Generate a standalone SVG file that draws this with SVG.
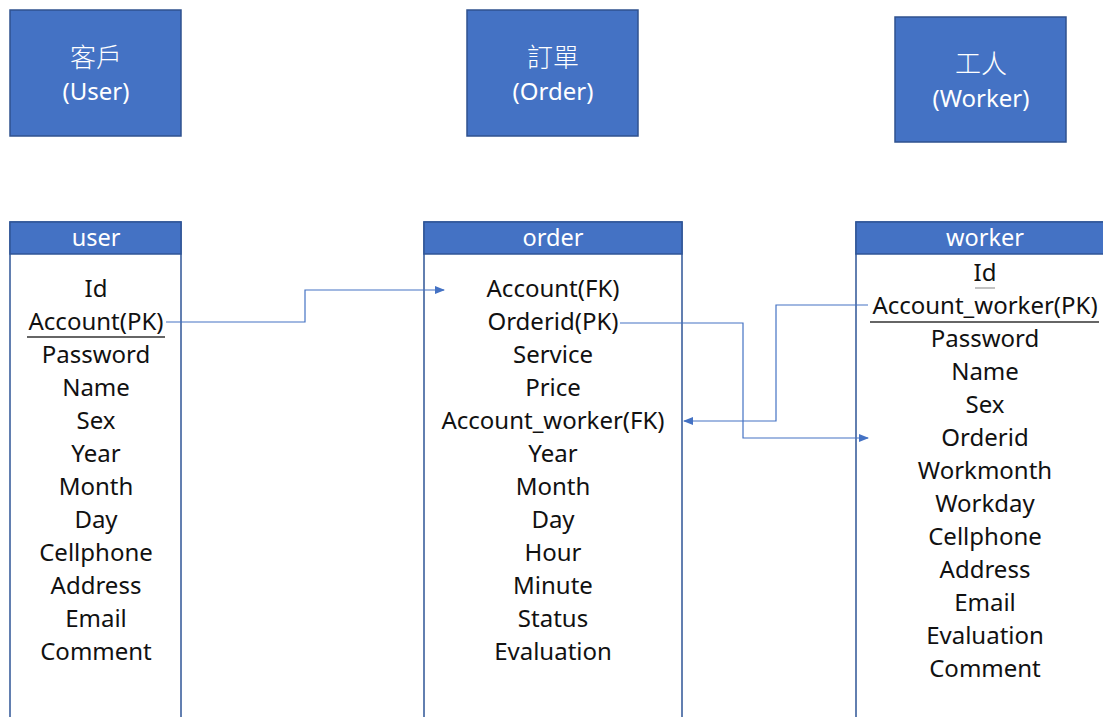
<svg xmlns="http://www.w3.org/2000/svg" width="1103" height="717" viewBox="0 0 1103 717">
<style>
.box{fill:#4472C4;stroke:#2F528F;stroke-width:1.5}
.tbl{fill:#fff;stroke:#2F5597;stroke-width:1.5}
.hdr{fill:#4472C4;stroke:#2F5597;stroke-width:1.5}
.bt{font-family:"Noto Sans","Noto Sans CJK TC",sans-serif;font-size:24px;fill:#fff;text-anchor:middle}
.cjk{font-family:"Noto Sans CJK TC",sans-serif;font-size:26px;font-weight:300;fill:#fff;text-anchor:middle}
.ht{font-family:"Noto Sans",sans-serif;font-size:23.5px;fill:#fff;text-anchor:middle}
.ft{font-family:"Noto Sans",sans-serif;font-size:24px;fill:#111;text-anchor:middle}
.sep{stroke:#333;stroke-width:1.5}
.con{fill:none;stroke:#4472C4;stroke-width:1.2}
</style>
<defs>
<marker id="arr" markerWidth="10" markerHeight="8" refX="9" refY="4" orient="auto" markerUnits="userSpaceOnUse">
<path d="M0,0 L10,4 L0,8 Z" fill="#4472C4"/>
</marker>
</defs>
<rect width="1103" height="717" fill="#fff"/>
<g id="box-user">
<rect class="box" x="10" y="10" width="171" height="126"/>
<text class="cjk" x="96" y="67">客戶</text>
<text class="bt" x="96" y="100">(User)</text>
</g>
<g id="box-order">
<rect class="box" x="467" y="10" width="171" height="126"/>
<text class="cjk" x="553" y="67">訂單</text>
<text class="bt" x="553" y="100">(Order)</text>
</g>
<g id="box-worker">
<rect class="box" x="895" y="17" width="171" height="125"/>
<text class="cjk" x="981" y="73">工人</text>
<text class="bt" x="981" y="107">(Worker)</text>
</g>
<g id="table-user">
<rect class="tbl" x="10" y="222" width="171" height="510"/>
<rect class="hdr" x="10" y="222" width="171" height="32"/>
<text class="ht" x="96" y="246">user</text>
<g class="ft">
<text x="96" y="297">Id</text>
<text x="96" y="330">Account(PK)</text>
<text x="96" y="363">Password</text>
<text x="96" y="396">Name</text>
<text x="96" y="429">Sex</text>
<text x="96" y="462">Year</text>
<text x="96" y="495">Month</text>
<text x="96" y="528">Day</text>
<text x="96" y="561">Cellphone</text>
<text x="96" y="594">Address</text>
<text x="96" y="627">Email</text>
<text x="96" y="660">Comment</text>
</g>
<line class="sep" x1="27" y1="337" x2="165" y2="337"/>
</g>
<g id="table-order">
<rect class="tbl" x="424" y="222" width="258" height="510"/>
<rect class="hdr" x="424" y="222" width="258" height="32"/>
<text class="ht" x="553" y="246">order</text>
<g class="ft">
<text x="553" y="297">Account(FK)</text>
<text x="553" y="330">Orderid(PK)</text>
<text x="553" y="363">Service</text>
<text x="553" y="396">Price</text>
<text x="553" y="429">Account_worker(FK)</text>
<text x="553" y="462">Year</text>
<text x="553" y="495">Month</text>
<text x="553" y="528">Day</text>
<text x="553" y="561">Hour</text>
<text x="553" y="594">Minute</text>
<text x="553" y="627">Status</text>
<text x="553" y="660">Evaluation</text>
</g>
</g>
<g id="table-worker">
<rect class="tbl" x="856" y="222" width="260" height="510"/>
<rect class="hdr" x="856" y="222" width="260" height="32"/>
<text class="ht" x="985" y="246">worker</text>
<g class="ft">
<text x="985" y="281">Id</text>
<text x="985" y="314">Account_worker(PK)</text>
<text x="985" y="347">Password</text>
<text x="985" y="380">Name</text>
<text x="985" y="413">Sex</text>
<text x="985" y="446">Orderid</text>
<text x="985" y="479">Workmonth</text>
<text x="985" y="512">Workday</text>
<text x="985" y="545">Cellphone</text>
<text x="985" y="578">Address</text>
<text x="985" y="611">Email</text>
<text x="985" y="644">Evaluation</text>
<text x="985" y="677">Comment</text>
</g>
<line x1="975" y1="288" x2="995" y2="288" stroke="#999" stroke-width="1.2"/>
<line class="sep" x1="870" y1="322" x2="1099" y2="322"/>
</g>
<g id="connectors">
<polyline class="con" points="166,322 305,322 305,290 444,290" marker-end="url(#arr)"/>
<polyline class="con" points="620,323 743,323 743,438 868,438" marker-end="url(#arr)"/>
<polyline class="con" points="868,305 776,305 776,421 684,421" marker-end="url(#arr)"/>
</g>
</svg>
